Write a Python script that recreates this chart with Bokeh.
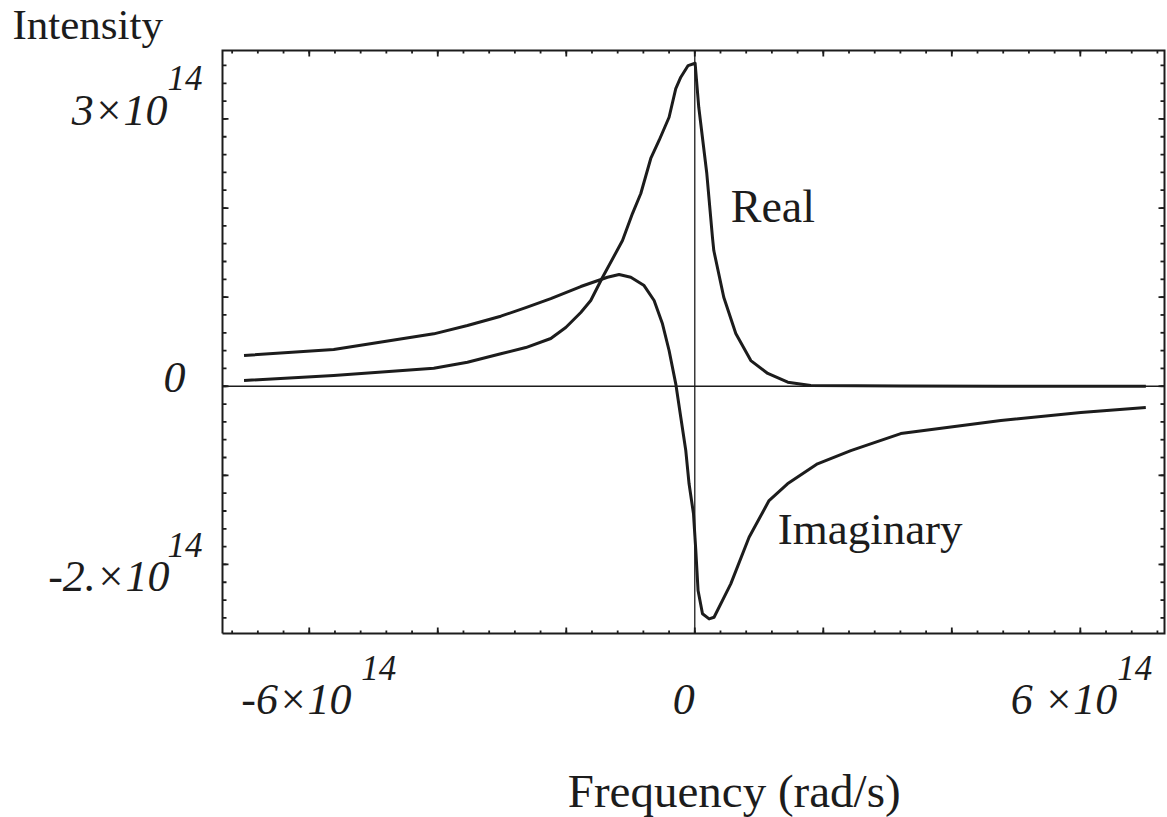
from bokeh.plotting import figure
from bokeh.models import Range1d
from bokeh.embed import file_html
from bokeh.resources import INLINE
from bokeh.core.properties import value

# ---- data ----
real_freq = [-7.015e14, -5.619e14, -4.062e14, -3.538e14, -3.019e14, -2.630e14, -2.241e14,
             -2.008e14, -1.774e14, -1.619e14, -1.437e14, -1.125e14, -0.970e14, -0.840e14,
             -0.685e14, -0.556e14, -0.400e14, -0.296e14, -0.218e14, -0.104e14, 0.005e14,
             0.062e14, 0.187e14, 0.275e14, 0.296e14, 0.451e14, 0.638e14, 0.872e14,
             1.136e14, 1.447e14, 1.805e14, 3.21e14, 4.76e14, 7.02e14]
real_val = [0.064e14, 0.120e14, 0.202e14, 0.269e14, 0.364e14, 0.434e14, 0.536e14,
            0.659e14, 0.827e14, 0.962e14, 1.220e14, 1.635e14, 1.938e14, 2.163e14,
            2.556e14, 2.758e14, 3.019e14, 3.341e14, 3.468e14, 3.599e14, 3.625e14,
            3.131e14, 2.387e14, 1.672e14, 1.523e14, 0.999e14, 0.591e14, 0.288e14,
            0.143e14, 0.045e14, 0.008e14, 0.002e14, 0.0, 0.0]

imag_freq = [-7.015e14, -5.619e14, -4.062e14, -3.538e14, -3.019e14, -2.630e14, -2.241e14,
             -1.774e14, -1.359e14, -1.178e14, -0.996e14, -0.789e14, -0.633e14, -0.503e14,
             -0.400e14, -0.296e14, -0.218e14, -0.140e14, -0.089e14, -0.020e14, 0.016e14,
             0.051e14, 0.120e14, 0.223e14, 0.300e14, 0.560e14, 0.845e14, 1.156e14,
             1.443e14, 1.910e14, 2.428e14, 3.206e14, 4.763e14, 6.008e14, 7.019e14]
imag_val = [0.345e14, 0.412e14, 0.588e14, 0.681e14, 0.786e14, 0.883e14, 0.984e14,
            1.119e14, 1.223e14, 1.254e14, 1.223e14, 1.130e14, 0.962e14, 0.700e14,
            0.401e14, 0.027e14, -0.348e14, -0.722e14, -1.095e14, -1.432e14, -1.844e14,
            -2.293e14, -2.554e14, -2.611e14, -2.593e14, -2.218e14, -1.695e14, -1.283e14,
            -1.095e14, -0.871e14, -0.722e14, -0.531e14, -0.385e14, -0.295e14, -0.239e14]

# axis limits of the plotted box
x_limits = [-7.35e14, 7.31e14]
y_limits = [-2.775e14, 3.768e14]

x_major_ticks = [-6e14, -4e14, -2e14, 0.0, 2e14, 4e14, 6e14]
x_minor_ticks = [k * 0.4e14 for k in range(-18, 19)]
y_major_ticks = [-2e14, -1e14, 0.0, 1e14, 2e14, 3e14]
y_minor_ticks = [k * 0.2e14 for k in range(-13, 19)]

x_tick_labels = [(-6e14, "-6×10", "14"), (0.0, "0", ""), (6e14, "6 ×10", "14")]
y_tick_labels = [(3e14, "3×10", "14"), (0.0, "0", ""), (-2e14, "-2.×10", "14")]

x_title = "Frequency (rad/s)"
y_title = "Intensity"
curve_names = ["Real", "Imaginary"]

# ---- scale: pixels per data unit (box 942 x 583 px) ----
W, H = 1167, 817
BOX_L, BOX_T, BOX_W, BOX_H = 222, 50, 942, 583
PXX = BOX_W / (x_limits[1] - x_limits[0])
PXY = BOX_H / (y_limits[1] - y_limits[0])

x_range = Range1d(x_limits[0] - BOX_L / PXX, x_limits[1] + (W - BOX_L - BOX_W) / PXX)
y_range = Range1d(y_limits[0] - (H - BOX_T - BOX_H) / PXY, y_limits[1] + BOX_T / PXY)

FONT = "Liberation Serif"
INK = "#1c1c1c"

p = figure(width=W, height=H, x_range=x_range, y_range=y_range,
           output_backend="svg", toolbar_location=None,
           x_axis_location=None, y_axis_location=None, min_border=0)
p.outline_line_color = None
p.background_fill_color = "white"
p.border_fill_color = "white"
p.xgrid.visible = False
p.ygrid.visible = False


def dx(px):
    return px / PXX


def dy(px):
    return px / PXY


XL, XR = x_limits
YB, YT = y_limits

# ticks (inward, on all four sides)
def ticks_x(vals, length):
    p.segment(x0=vals, y0=[YB] * len(vals), x1=vals, y1=[YB + dy(length)] * len(vals),
              line_color=INK, line_width=1.8)
    p.segment(x0=vals, y0=[YT] * len(vals), x1=vals, y1=[YT - dy(length)] * len(vals),
              line_color=INK, line_width=1.8)


def ticks_y(vals, length):
    p.segment(x0=[XL] * len(vals), y0=vals, x1=[XL + dx(length)] * len(vals), y1=vals,
              line_color=INK, line_width=1.8)
    p.segment(x0=[XR] * len(vals), y0=vals, x1=[XR - dx(length)] * len(vals), y1=vals,
              line_color=INK, line_width=1.8)


ticks_x(x_minor_ticks, 3)
ticks_x(x_major_ticks, 6)
ticks_y(y_minor_ticks, 4)
ticks_y(y_major_ticks, 6)

# zero lines
p.line([XL, XR], [0, 0], line_color=INK, line_width=1.3)
p.line([0, 0], [YB, YT], line_color=INK, line_width=1.3)

# box
p.line([XL, XR, XR, XL, XL], [YB, YB, YT, YT, YB], line_color=INK, line_width=2,
       line_join="miter")

# curves
p.line(real_freq, real_val, line_color=INK, line_width=3, line_join="round")
p.line(imag_freq, imag_val, line_color=INK, line_width=3, line_join="round")

BASE_FIX = 0.36  # renderer places the alphabetic baseline this many em too low


def txt(x, y, s, size_px, align, italic=True):
    p.text(x=[x], y=[y + dy(BASE_FIX * size_px)], text=[s], text_font=value(FONT),
           text_font_style="italic" if italic else "normal",
           text_font_size=f"{size_px}px", text_color=INK, text_align=align,
           text_baseline="alphabetic")


# curve names
txt(0.56e14, 1.826e14, curve_names[0], 46, "left", italic=False)
txt(1.29e14, -1.788e14, curve_names[1], 45, "left", italic=False)

# x tick labels: (main x offset, main align), superscript x offset  (pixels)
x_main_off = {-6e14: (-68, "left"), 0.0: (-22, "left"), 6e14: (37, "right")}
x_sup_off = {-6e14: 52, 6e14: 37}
for t, main, sup in x_tick_labels:
    off, al = x_main_off[t]
    txt(t + dx(off), YB - dy(82), main, 44, al)
    if sup:
        txt(t + dx(x_sup_off[t]), YB - dy(47), sup, 35, "left")

# y tick labels
y_main_off = {3e14: (-55, -7), 0.0: (-37, -7), -2e14: (-53, -28)}
y_sup_off = {3e14: (-55, 28), -2e14: (-55, 7)}
for t, main, sup in y_tick_labels:
    xo, yo = y_main_off[t]
    txt(XL + dx(xo), t + dy(yo), main, 44, "right")
    if sup:
        sxo, syo = y_sup_off[t]
        txt(XL + dx(sxo), t + dy(syo), sup, 35, "left")

# axis titles
txt(XL - dx(210), YT + dy(11), y_title, 43, "left", italic=False)
txt(0.0 - dx(127), YB - dy(174), x_title, 47, "left", italic=False)

open("out.html", "w").write(file_html(p, INLINE))
